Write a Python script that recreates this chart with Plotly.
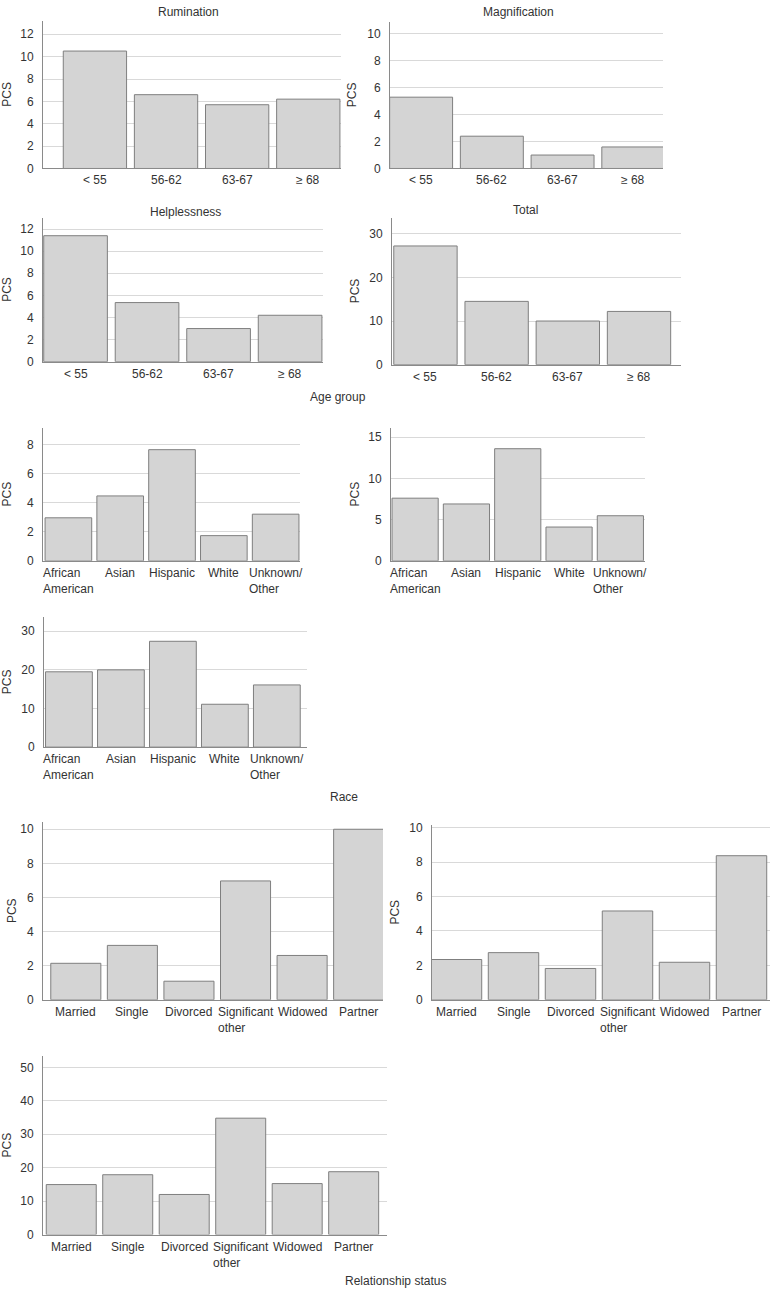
import plotly.graph_objects as go

# ---------------- data ----------------
age_groups = ["< 55", "56-62", "63-67", "≥ 68"]
rumination = [10.5, 6.6, 5.7, 6.2]
magnification = [5.3, 2.4, 1.0, 1.6]
helplessness = [11.4, 5.35, 3.0, 4.2]
total_age = [27.2, 14.5, 10.0, 12.2]

races = ["African<br>American", "Asian", "Hispanic", "White", "Unknown/<br>Other"]
race_a = [2.97, 4.48, 7.67, 1.74, 3.22]
race_b = [7.6, 6.9, 13.6, 4.1, 5.47]
race_total = [19.5, 20.0, 27.4, 11.1, 16.1]

relationship = ["Married", "Single", "Divorced", "Significant<br>other", "Widowed", "Partner"]
rel_a = [2.14, 3.19, 1.09, 6.97, 2.6, 10.0]
rel_b = [2.34, 2.74, 1.82, 5.16, 2.18, 8.37]
rel_total = [14.96, 17.9, 12.0, 34.8, 15.25, 18.8]

# ---------------- layout helpers ----------------
W, H = 778, 1309
FONT = "Liberation Sans, Arial, sans-serif"
TXT = "#333333"


def px(x):
    return x / W


def py(y):
    return 1 - y / H


# (categories, values, title, x0, x1, ytop, ybot, ymax, dtick, xrange, barwidth, pcs_x)
panels = [
    (age_groups, rumination, "Rumination", 43, 341, 16, 165, 13.2, 2, [-0.73, 3.46], 0.89, 7),
    (age_groups, magnification, "Magnification", 390, 663, 17, 165, 10.9, 2, [-0.44, 3.42], 0.89, 352),
    (age_groups, helplessness, "Helplessness", 43, 323, 215, 360, 13.0, 2, [-0.455, 3.46], 0.89, 7),
    (age_groups, total_age, "Total", 392, 681, 215, 363, 33.6, 10, [-0.47, 3.59], 0.89, 355),
    (races, race_a, None, 43, 300, 427, 561, 9.16, 2, [-0.49, 4.47], 0.9, 7),
    (races, race_b, None, 391, 645, 427, 561, 16.1, 5, [-0.47, 4.48], 0.9, 355),
    (races, race_total, None, 44, 307, 618, 749, 33.6, 10, [-0.48, 4.58], 0.9, 7),
    (relationship, rel_a, None, 43, 383, 825, 1004, 10.4, 2, [-0.58, 5.43], 0.885, 12),
    (relationship, rel_b, None, 432, 770, 828, 1004, 10.13, 2, [-0.43, 5.5], 0.885, 395),
    (relationship, rel_total, None, 43, 387, 1061, 1241, 53.3, 10, [-0.5, 5.59], 0.885, 7),
]

title_pos = {"Rumination": (188, 7), "Magnification": (518, 7),
             "Helplessness": (185, 209), "Total": (525, 207)}

fig = go.Figure()
annotations = []
layout_axes = {}

for i, (cats, vals, title, x0, x1, yt, yb, ymax, dt, xr, bw, pcs_x) in enumerate(panels):
    n = i + 1
    sfx = "" if n == 1 else str(n)
    fig.add_trace(go.Bar(
        x=cats, y=vals, width=bw,
        marker=dict(color="#d4d4d4", line=dict(color="#7f7f7f", width=1)),
        xaxis="x" + sfx, yaxis="y" + sfx, showlegend=False, hoverinfo="x+y",
    ))
    layout_axes["xaxis" + sfx] = dict(
        domain=[px(x0), px(x1)], anchor="y" + sfx, type="category",
        categoryorder="array", categoryarray=cats, range=xr,
        showticklabels=False, ticks="", showgrid=False, zeroline=False,
        showline=True, linecolor="#8a8a8a", linewidth=1, fixedrange=True,
    )
    layout_axes["yaxis" + sfx] = dict(
        domain=[py(yb), py(yt)], anchor="x" + sfx, range=[0, ymax], dtick=dt,
        tick0=0, showgrid=True, gridcolor="#d9d9d9", gridwidth=1, zeroline=False,
        showline=True, linecolor="#8a8a8a", linewidth=1,
        ticks="outside", ticklen=6, tickcolor="rgba(0,0,0,0)",
        tickfont=dict(family=FONT, size=12, color=TXT), fixedrange=True,
    )
    # category labels (left-aligned multi-line blocks centred under bars)
    for c in cats:
        annotations.append(dict(
            x=c, y=0, xref="x" + sfx, yref=("y" if n == 1 else "y" + sfx) + " domain",
            text=c, showarrow=False, xanchor="center", yanchor="top", align="left",
            yshift=-3, font=dict(family=FONT, size=12, color=TXT),
        ))
    # PCS axis label
    annotations.append(dict(
        x=px(pcs_x), y=py((yt + yb) / 2), xref="paper", yref="paper", text="PCS",
        textangle=-90, showarrow=False, xanchor="center", yanchor="middle",
        font=dict(family=FONT, size=12, color=TXT),
    ))
    if title:
        tx, ty = title_pos[title]
        annotations.append(dict(
            x=px(tx), y=py(ty), xref="paper", yref="paper", text=title,
            showarrow=False, xanchor="center", yanchor="middle",
            font=dict(family=FONT, size=12, color=TXT),
        ))

for text, cx, cy in [("Age group", 338, 396), ("Race", 344, 799), ("Relationship status", 395, 1288)]:
    annotations.append(dict(
        x=px(cx), y=py(cy), xref="paper", yref="paper", text=text, showarrow=False,
        xanchor="center", yanchor="middle", font=dict(family=FONT, size=12, color=TXT),
    ))

fig.update_layout(
    width=W, height=H, margin=dict(l=0, r=0, t=0, b=0),
    paper_bgcolor="white", plot_bgcolor="white",
    font=dict(family=FONT, size=12, color=TXT),
    annotations=annotations, bargap=0.1, showlegend=False,
    **layout_axes,
)

fig.write_html(
    "out.html",
    config={"displayModeBar": False},
    post_script="document.body.style.margin='0';document.body.style.padding='0';"
                "document.body.style.overflow='hidden';",
)
